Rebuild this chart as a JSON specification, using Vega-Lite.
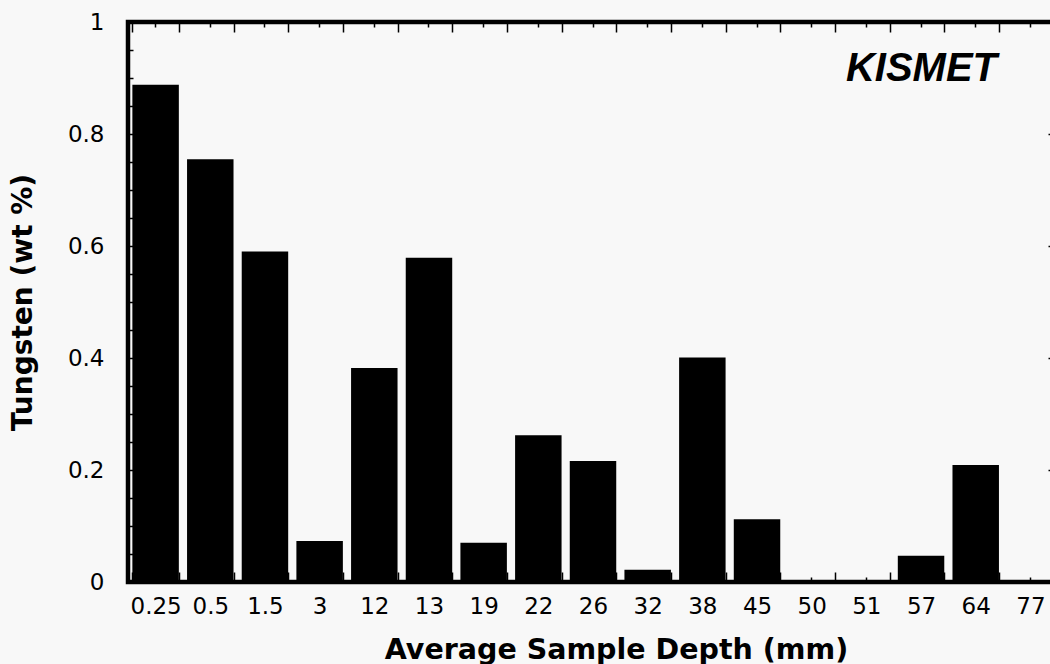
{
  "$schema": "https://vega.github.io/schema/vega-lite/v6.json",
  "width": 930,
  "height": 560,
  "autosize": {"type": "none"},
  "padding": {"left": 128, "top": 22, "right": -8, "bottom": 82},
  "background": "#f8f8f8",
  "config": {
    "view": {"stroke": "black", "strokeWidth": 4.5},
    "font": "DejaVu Sans",
    "axis": {"domain": false, "grid": false, "tickColor": "black", "tickWidth": 1.5, "labelColor": "black", "titleColor": "black", "labelFont": "DejaVu Sans", "titleFont": "DejaVu Sans", "offset": 0}
  },
  "title": {"text": "KISMET", "orient": "top", "anchor": "end", "frame": "group", "fontSize": 40, "fontStyle": "italic", "fontWeight": "bold", "font": "Liberation Sans", "color": "black", "dy": 82, "dx": -61},
  "data": {"values": [
    {"depth": "0.25", "tungsten": 0.888},
    {"depth": "0.5", "tungsten": 0.755},
    {"depth": "1.5", "tungsten": 0.590},
    {"depth": "3", "tungsten": 0.073},
    {"depth": "12", "tungsten": 0.382},
    {"depth": "13", "tungsten": 0.579},
    {"depth": "19", "tungsten": 0.070},
    {"depth": "22", "tungsten": 0.262},
    {"depth": "26", "tungsten": 0.216},
    {"depth": "32", "tungsten": 0.022},
    {"depth": "38", "tungsten": 0.401},
    {"depth": "45", "tungsten": 0.112},
    {"depth": "50", "tungsten": 0},
    {"depth": "51", "tungsten": 0},
    {"depth": "57", "tungsten": 0.047},
    {"depth": "64", "tungsten": 0.209},
    {"depth": "77", "tungsten": 0}
  ]},
  "resolve": {"axis": {"x": "independent", "y": "independent"}},
  "layer": [
    {
      "mark": {"type": "bar", "color": "black"},
      "encoding": {
        "x": {"field": "depth", "type": "nominal", "sort": null,
              "scale": {"paddingInner": 0.15, "paddingOuter": 0.08},
              "axis": {"orient": "bottom", "title": "Average Sample Depth (mm)", "titleFontSize": 28.5, "titleFontWeight": "bold", "titlePadding": 17, "titleX": 488, "titleAlign": "center",
                       "labelFontSize": 23, "labelAngle": 0, "labelPadding": 23, "tickBand": "extent", "tickSize": -10, "offset": 0}},
        "y": {"field": "tungsten", "type": "quantitative",
              "scale": {"domain": [0, 1], "nice": false},
              "axis": {"orient": "left", "title": "Tungsten (wt %)", "titleFontSize": 28, "titleFontWeight": "bold", "titlePadding": 30,
                       "values": [0, 0.2, 0.4, 0.6, 0.8, 1], "labelFontSize": 23, "labelPadding": 34, "tickSize": -10, "offset": 0,
                       "labelExpr": "datum.value == 0 ? '0' : datum.value == 1 ? '1' : format(datum.value, '.1f')"}}
      }
    },
    {
      "mark": {"type": "bar", "opacity": 0},
      "encoding": {
        "x": {"field": "depth", "type": "nominal", "sort": null,
              "axis": {"orient": "bottom", "title": null, "labels": false, "tickSize": -5, "offset": 0}},
        "y": {"field": "tungsten", "type": "quantitative",
              "axis": {"orient": "left", "title": null, "labels": false, "tickSize": -5, "offset": 0,
                       "values": [0.05, 0.1, 0.15, 0.25, 0.3, 0.35, 0.45, 0.5, 0.55, 0.65, 0.7, 0.75, 0.85, 0.9, 0.95]}}
      }
    },
    {
      "mark": {"type": "bar", "opacity": 0},
      "encoding": {
        "x": {"field": "depth", "type": "nominal", "sort": null,
              "axis": {"orient": "top", "title": null, "labels": false, "tickBand": "extent", "tickSize": -10, "offset": 0}},
        "y": {"field": "tungsten", "type": "quantitative",
              "axis": {"orient": "right", "title": null, "labels": false, "tickSize": -10, "offset": 0,
                       "values": [0.2, 0.4, 0.6, 0.8]}}
      }
    },
    {
      "mark": {"type": "bar", "opacity": 0},
      "encoding": {
        "x": {"field": "depth", "type": "nominal", "sort": null,
              "axis": {"orient": "top", "title": null, "labels": false, "tickSize": -5, "offset": 0}},
        "y": {"field": "tungsten", "type": "quantitative", "axis": null}
      }
    }
  ]
}
